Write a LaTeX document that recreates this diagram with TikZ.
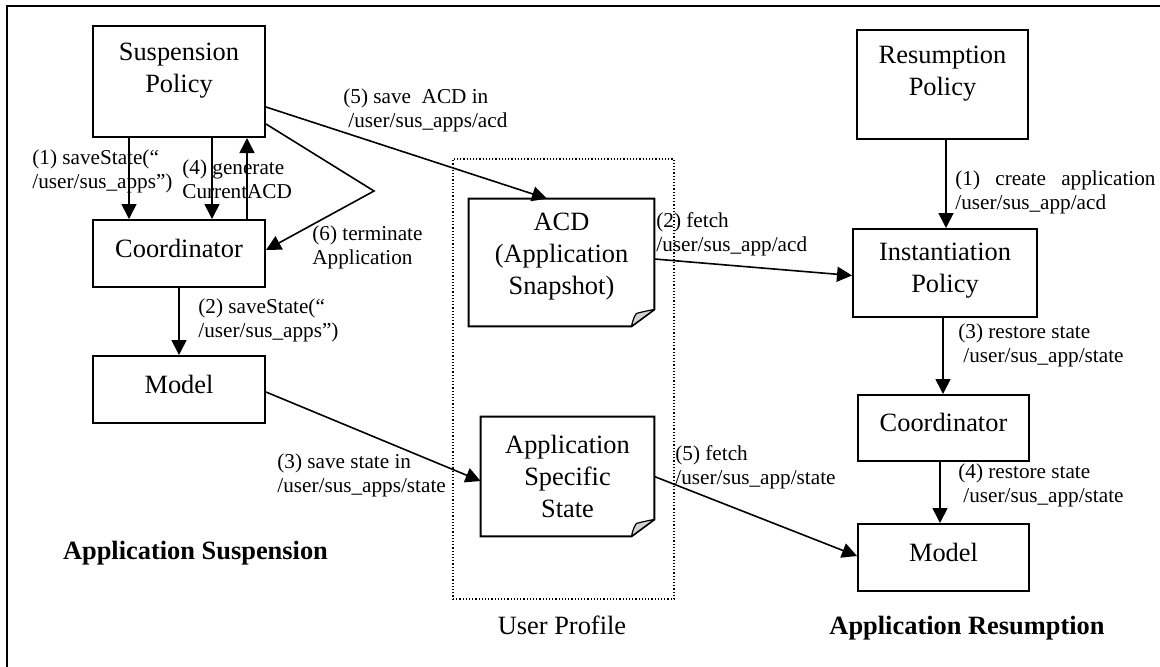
\documentclass[tikz,border=0pt]{standalone}
\usepackage{fontspec}
\setmainfont{Liberation Serif}
\usetikzlibrary{arrows.meta,positioning}

\begin{document}
\begin{tikzpicture}[
    x=0.5pt, y=-0.5pt,
    box/.style={draw, line width=1pt, minimum width=86pt, minimum height=33.5pt, align=center, font=\fontsize{13.2}{16}\selectfont, text depth=5.5pt},
    doc/.style={minimum width=86.5pt, align=center, font=\fontsize{13.2}{16}\selectfont},
    lbl/.style={anchor=west, align=left, inner sep=0pt, font=\fontsize{10.6}{12}\selectfont},
    title/.style={font=\fontsize{13.2}{16}\selectfont\bfseries},
    arrow/.style={-{Triangle[length=7.5pt,width=7.5pt]}, line width=0.8pt}
  ]
    \useasboundingbox (0,0) rectangle (1160,666);
    \draw[line width=1pt] (7,5.5) rectangle (1200,700);

    % suspension side
    \node[box, minimum height=55.5pt, text depth=14pt] (susp) at (179,81.5) {Suspension\\Policy};
    \node[box, below=40.5pt of susp] (coordL) {Coordinator};
    \node[box, below=33.5pt of coordL] (modelL) {Model};
    \node[title] (suspTitle) at (195.5,553) {Application Suspension};

    % user profile
    \node[draw, line width=0.6pt, dash pattern=on 0.6pt off 1pt, minimum width=110.5pt, minimum height=220pt] (profile) at (563.5,379) {};
    \node[doc, minimum width=92.5pt, minimum height=63.5pt, text depth=9pt] (acd) at (561.5,262.5) {ACD\\(Application\\Snapshot)};
    \node[doc, minimum height=59.5pt] (state) at (567.5,476.5) {Application\\Specific\\State};
    \node[font=\fontsize{13.2}{16}\selectfont] (profileLbl) at (562,625) {User Profile};
    \foreach \docname in {acd,state} {
      \draw[line width=1pt] (\docname.north west) -- (\docname.north east) -- ([yshift=8.5pt]\docname.south east)
        -- ([xshift=-11.5pt]\docname.south east) -- (\docname.south west) -- cycle;
      \filldraw[fill=gray!35, line width=0.6pt, line join=round] ([xshift=-11.5pt]\docname.south east)
        .. controls ([xshift=-10.5pt,yshift=4pt]\docname.south east) .. ([xshift=-9pt,yshift=6.5pt]\docname.south east)
        .. controls ([xshift=-5pt,yshift=7.5pt]\docname.south east) .. ([yshift=8.5pt]\docname.south east) -- cycle;
    }

    % resumption side
    \node[box, minimum width=85.5pt, minimum height=54.5pt, text depth=14pt] (resum) at (942.5,84.5) {Resumption\\Policy};
    \node[box, minimum width=92pt, minimum height=44pt, text depth=5.4pt, below=44pt of resum, xshift=1.25pt] (inst) {Instantiation\\Policy};
    \node[box, minimum width=85.5pt, minimum height=33pt, below=38pt of inst, xshift=-0.75pt] (coordR) {Coordinator};
    \node[box, minimum width=85.5pt, below=30.5pt of coordR] (modelR) {Model};
    \node[title] (resumTitle) at (967,628) {Application Resumption};

    % arrows
    \draw[arrow] ([xshift=-25pt]susp.south) -- ([xshift=-25pt]coordL.north);
    \draw[arrow] ([xshift=16.5pt]susp.south) -- ([xshift=16.5pt]coordL.north);
    \draw[arrow] ([xshift=34pt]coordL.north) -- ([xshift=34pt]susp.south);
    \draw[arrow] (coordL.south) -- (modelL.north);
    \draw[arrow] ([yshift=-12.75pt]susp.east) -- ([xshift=-7.25pt]acd.north);
    \coordinate (bend) at (374,191);
    \draw[arrow] ([yshift=-21.25pt]susp.east) -- (bend) -- ([yshift=1.75pt]coordL.east);
    \draw[arrow] ([yshift=-1.25pt]modelL.east) -- ([yshift=-2.25pt]state.west);
    \draw[arrow] ([yshift=1.75pt]acd.east) -- ([yshift=-1.25pt]inst.west);
    \draw[arrow] (state.east) -- ([yshift=0.75pt]modelR.west);
    \draw[arrow] ([xshift=1.75pt]resum.south) -- ([xshift=0.5pt]inst.north);
    \draw[arrow] ([xshift=-1pt]inst.south) -- ([xshift=-0.25pt]coordR.north);
    \draw[arrow] ([xshift=-1.75pt]coordR.south) -- ([xshift=-1.75pt]modelR.north);

    % labels
    \node[lbl] (l1) at (32,171.5) {(1) saveState(“\\/user/sus\_apps”)};
    \node[lbl] (l4) at (182,179) {(4) generate\\CurrentACD};
    \node[lbl] (l5) at (343,110) {(5) save\ \ ACD in\\\hspace*{2.5pt}/user/sus\_apps/acd};
    \node[lbl] (l6) at (312,247.5) {(6) terminate\\Application};
    \node[lbl] (l2) at (198,320) {(2) saveState(“\\/user/sus\_apps”)};
    \node[lbl] (l3) at (277,475.5) {(3) save state in\\/user/sus\_apps/state};
    \node[lbl] (r2) at (656,234.5) {(2) fetch\\/user/sus\_app/acd};
    \node[lbl] (r5) at (675,467) {(5) fetch\\/user/sus\_app/state};
    \node[lbl] (r1) at (955,192) {(1) \hspace{5pt}create \hspace{5pt}application\\/user/sus\_app/acd};
    \node[lbl] (r3) at (958,345) {(3) restore state\\\hspace*{2.5pt}/user/sus\_app/state};
    \node[lbl] (r4) at (958,485) {(4) restore state\\\hspace*{2.5pt}/user/sus\_app/state};
  \end{tikzpicture}
\end{document}
